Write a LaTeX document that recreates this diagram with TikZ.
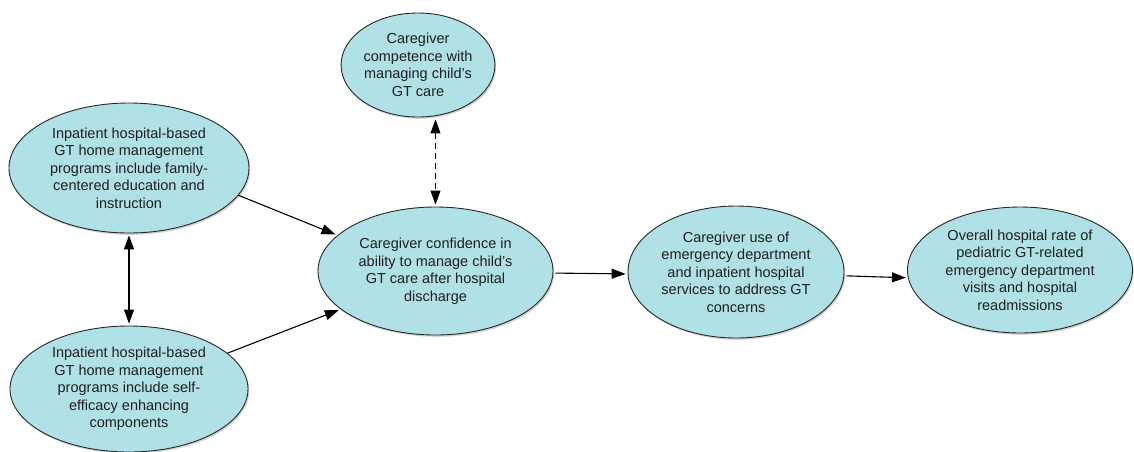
\documentclass[tikz,border=0pt]{standalone}
\usepackage{fontspec}
\setmainfont{Liberation Sans}
\usetikzlibrary{shapes.geometric,arrows.meta,shadows}
\definecolor{ellfill}{RGB}{176,225,230}
\definecolor{ellline}{RGB}{40,40,40}
\definecolor{txt}{RGB}{30,30,30}
\tikzset{
  ell/.style={ellipse, draw=ellline, line width=0.9pt, fill=ellfill, inner sep=0pt,
    align=center, text=txt, font=\fontsize{14.5}{17.5}\selectfont,
    drop shadow={opacity=0.35, shadow xshift=1.2pt, shadow yshift=-1.8pt}},
  conn/.style={line width=1.1pt, draw=black, -{Triangle[length=14pt,width=10pt]}, shorten >=2pt, shorten <=2pt},
  biconn/.style={line width=1.1pt, draw=black, {Triangle[length=14pt,width=10pt]}-{Triangle[length=14pt,width=10pt]}, shorten >=2pt, shorten <=2pt},
}
\begin{document}
\begin{tikzpicture}[x=1pt,y=-1pt]
\useasboundingbox (0,0) rectangle (1134,451);
\node[ell, minimum width=144pt, minimum height=104pt] (top) at (418,65)
  {Caregiver\\competence with\\managing child's\\GT care};
\node[ell, minimum width=240pt, minimum height=130pt] (tl) at (129,168)
  {Inpatient hospital-based\\GT home management\\programs include family-\\centered education and\\instruction};
\node[ell, minimum width=238pt, minimum height=126pt] (bl) at (129,389)
  {Inpatient hospital-based\\GT home management\\programs include self-\\efficacy enhancing\\components};
\node[ell, minimum width=235pt, minimum height=128pt] (c) at (435.5,271)
  {Caregiver confidence in\\ability to manage child's\\GT care after hospital\\discharge};
\node[ell, minimum width=216pt, minimum height=132pt] (ed) at (736,272)
  {Caregiver use of\\emergency department\\and inpatient hospital\\services to address GT\\concerns};
\node[ell, minimum width=225pt, minimum height=126pt] (r) at (1020,270)
  {Overall hospital rate of\\pediatric GT-related\\emergency department\\visits and hospital\\readmissions};

\draw[conn, shorten <=0pt] (tl.-14.7) -- (c.160.6);
\draw[conn, shorten <=0pt] (bl.20.7) -- (c.202.2);
\draw[biconn] (tl.south) -- (bl.north);
\draw[biconn, dash pattern=on 6pt off 4pt] (top.south -| c.north) -- (c.north);
\draw[conn] (c.-1.5) -- (ed.181.2);
\draw[conn] (ed.-2.5) -- (r.184.2);
\end{tikzpicture}
\end{document}
